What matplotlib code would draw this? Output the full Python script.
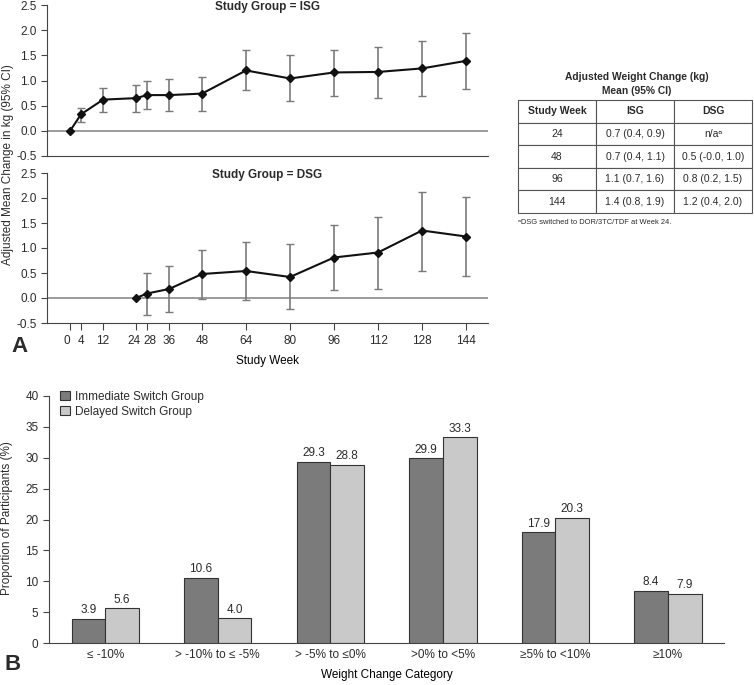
import matplotlib.pyplot as plt
import matplotlib.transforms as mtransforms
import numpy as np

plt.rcParams['font.family'] = ['Liberation Sans', 'DejaVu Sans']
plt.rcParams['text.color'] = '#2b2b2b'
plt.rcParams['axes.edgecolor'] = '#444444'
plt.rcParams['xtick.color'] = '#444444'
plt.rcParams['ytick.color'] = '#444444'
plt.rcParams['xtick.labelcolor'] = '#2b2b2b'
plt.rcParams['ytick.labelcolor'] = '#2b2b2b'

# panel A data (adjusted mean change in kg, 95% CI)
week_ticks = [0, 4, 12, 24, 28, 36, 48, 64, 80, 96, 112, 128, 144]
weeks_isg = [0, 4, 12, 24, 28, 36, 48, 64, 80, 96, 112, 128, 144]
isg_mean = [0, 0.33, 0.62, 0.65, 0.71, 0.71, 0.74, 1.20, 1.04, 1.16, 1.17, 1.24, 1.39]
isg_lo = [0, 0.17, 0.37, 0.37, 0.44, 0.39, 0.40, 0.82, 0.59, 0.70, 0.66, 0.69, 0.84]
isg_hi = [0, 0.46, 0.85, 0.92, 1.00, 1.03, 1.07, 1.61, 1.50, 1.60, 1.66, 1.79, 1.94]
weeks_dsg = [24, 28, 36, 48, 64, 80, 96, 112, 128, 144]
dsg_mean = [0, 0.09, 0.18, 0.48, 0.54, 0.42, 0.81, 0.91, 1.35, 1.23]
dsg_lo = [0, -0.33, -0.28, -0.01, -0.03, -0.22, 0.17, 0.19, 0.55, 0.44]
dsg_hi = [0, 0.51, 0.65, 0.97, 1.12, 1.08, 1.46, 1.63, 2.13, 2.03]

# table data
table_cols = ['Study Week', 'ISG', 'DSG']
table_weeks = ['24', '48', '96', '144']
table_isg = ['0.7 (0.4, 0.9)', '0.7 (0.4, 1.1)', '1.1 (0.7, 1.6)', '1.4 (0.8, 1.9)']
table_dsg = ['n/a\u1d43', '0.5 (-0.0, 1.0)', '0.8 (0.2, 1.5)', '1.2 (0.4, 2.0)']

# panel B data
categories = ['\u2264 -10%', '> -10% to \u2264 -5%', '> -5% to \u22640%',
              '>0% to <5%', '\u22655% to <10%', '\u226510%']
immediate = [3.9, 10.6, 29.3, 29.9, 17.9, 8.4]
delayed = [5.6, 4.0, 28.8, 33.3, 20.3, 7.9]

W, H = 754, 685
fig = plt.figure(figsize=(W / 100, H / 100), dpi=100)


def box(x0, y0, x1, y1):
    # pixel box (top-left origin) -> figure fraction rect
    return [x0 / W, 1 - y1 / H, (x1 - x0) / W, (y1 - y0) / H]


def line_panel(ax, weeks, mean, lo, hi, title, show_x):
    ax.axhline(0, color='#8a8a8a', lw=1.2, zorder=1)
    mean = np.array(mean)
    lo = np.array(lo)
    hi = np.array(hi)
    has_ci = hi > lo
    w = np.array(weeks)
    ax.errorbar(w[has_ci], mean[has_ci],
                yerr=[mean[has_ci] - lo[has_ci], hi[has_ci] - mean[has_ci]],
                fmt='none', ecolor='#7a7a7a', elinewidth=1.2, capsize=3,
                capthick=1.0, zorder=2)
    ax.plot(w, mean, color='#111111', lw=1.5, marker='D', ms=4.5, zorder=3)
    ax.set_xlim(-8.4, 152)
    ax.set_ylim(-0.5, 2.5)
    ax.set_yticks(np.arange(-0.5, 2.51, 0.5))
    ax.set_yticklabels([f'{v:.1f}' for v in np.arange(-0.5, 2.51, 0.5)])
    ax.tick_params(axis='y', labelsize=8.5, length=4, width=0.8)
    for s in ['top', 'right']:
        ax.spines[s].set_visible(False)
    ax.spines['left'].set_linewidth(0.8)
    ax.spines['bottom'].set_linewidth(0.8)
    ax.text(0.5, 0.985, title, transform=ax.transAxes, ha='center', va='center',
            fontsize=8.5, fontweight='bold')
    if show_x:
        ax.set_xticks(week_ticks)
        ax.tick_params(axis='x', labelsize=8.5, length=5, width=0.8)
    else:
        ax.set_xticks([])


ax1 = fig.add_axes(box(47, 5, 488, 156))
line_panel(ax1, weeks_isg, isg_mean, isg_lo, isg_hi, 'Study Group = ISG', False)
ax2 = fig.add_axes(box(47, 173, 488, 323))
line_panel(ax2, weeks_dsg, dsg_mean, dsg_lo, dsg_hi, 'Study Group = DSG', True)
# nudge crowded week labels apart
nudge = {0: -3, 24: -2, 28: 3}
for wk, lab in zip(week_ticks, ax2.get_xticklabels()):
    if wk in nudge:
        lab.set_transform(lab.get_transform() + mtransforms.ScaledTranslation(
            nudge[wk] / 100, 0, fig.dpi_scale_trans))
ax2.set_xlabel('Study Week', fontsize=8.5, labelpad=6)
fig.text(8 / W, 1 - 165 / H, 'Adjusted Mean Change in kg (95% CI)', rotation=90,
         ha='center', va='center', fontsize=8.5)
fig.text(20 / W, 1 - 346 / H, 'A', fontsize=16, fontweight='bold', ha='center', va='center')

# table
fig.text(637 / W, 1 - 77 / H, 'Adjusted Weight Change (kg)', ha='center', va='center',
         fontsize=7.4, fontweight='bold')
fig.text(637 / W, 1 - 91 / H, 'Mean (95% CI)', ha='center', va='center',
         fontsize=7.4, fontweight='bold')
axt = fig.add_axes(box(518, 100, 752, 213))
axt.axis('off')
rows = [[a, b, c] for a, b, c in zip(table_weeks, table_isg, table_dsg)]
tbl = axt.table(cellText=rows, colLabels=table_cols, cellLoc='center', bbox=[0, 0, 1, 1])
tbl.auto_set_font_size(False)
for (r, c), cell in tbl.get_celld().items():
    cell.set_edgecolor('#555555')
    cell.set_linewidth(0.8)
    cell.set_text_props(fontsize=7.5, color='#2b2b2b')
    if r == 0:
        cell.set_text_props(fontweight='bold')
fig.text(518 / W, 1 - 222 / H, '\u1d43DSG switched to DOR/3TC/TDF at Week 24.',
         ha='left', va='center', fontsize=5.4)

# panel B
ax3 = fig.add_axes(box(49, 396, 724, 643))
x = np.arange(len(categories))
bw = 0.3
b1 = ax3.bar(x - bw / 2, immediate, bw, color='#7b7b7b', edgecolor='#333333', lw=0.8,
             label='Immediate Switch Group')
b2 = ax3.bar(x + bw / 2, delayed, bw, color='#c9c9c9', edgecolor='#333333', lw=0.8,
             label='Delayed Switch Group')
ax3.bar_label(b1, fmt='%.1f', padding=2, fontsize=8.5)
ax3.bar_label(b2, fmt='%.1f', padding=2, fontsize=8.5)
ax3.set_xlim(-0.5, 5.5)
ax3.set_ylim(0, 40)
ax3.set_yticks(range(0, 41, 5))
ax3.set_xticks(x)
ax3.set_xticklabels(categories)
ax3.tick_params(axis='x', length=0, labelsize=8.5, pad=4)
ax3.tick_params(axis='y', labelsize=8.5, length=4, width=0.8)
for s in ['top', 'right']:
    ax3.spines[s].set_visible(False)
ax3.spines['left'].set_linewidth(0.8)
ax3.spines['bottom'].set_linewidth(0.8)
ax3.set_xlabel('Weight Change Category', fontsize=8.5, labelpad=6)
ax3.legend(loc='upper left', bbox_to_anchor=(0.01, 1.04), frameon=False, fontsize=8.5,
           handlelength=0.8, handleheight=0.8, handletextpad=0.4, labelspacing=0.25,
           borderaxespad=0)
fig.text(7 / W, 1 - 518 / H, 'Proportion of Participants (%)', rotation=90,
         ha='center', va='center', fontsize=8.5)
fig.text(13 / W, 1 - 664 / H, 'B', fontsize=16, fontweight='bold', ha='center', va='center')

fig.savefig('out.png', dpi=100)
